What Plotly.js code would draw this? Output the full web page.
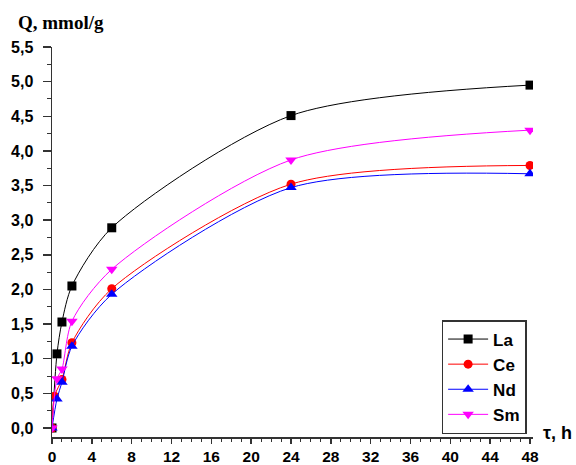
<!DOCTYPE html>
<html><head><meta charset="utf-8">
<script src="https://cdn.plot.ly/plotly-3.0.1.min.js"></script>
<style>body{margin:0;background:#fff}#c{width:576px;height:465px}</style>
</head><body><div id="c"></div>
<script>
const tLa = [0, 0.5, 1, 2, 6, 24, 48];
const qLa = [0, 1.07, 1.53, 2.05, 2.89, 4.51, 4.95];
const tCe = [0, 0.25, 1, 2, 6, 24, 48];
const qCe = [0, 0.46, 0.70, 1.23, 2.01, 3.52, 3.79];
const tNd = [0, 0.5, 1, 2, 6, 24, 48];
const qNd = [0, 0.42, 0.66, 1.18, 1.93, 3.47, 3.67];
const tSm = [0, 0.5, 1, 2, 6, 24, 48];
const qSm = [0, 0.71, 0.85, 1.54, 2.29, 3.87, 4.30];
const names = ['La', 'Ce', 'Nd', 'Sm'];
const xTicks = [0, 4, 8, 12, 16, 20, 24, 28, 32, 36, 40, 44, 48];
const yTicks = [0, 0.5, 1, 1.5, 2, 2.5, 3, 3.5, 4, 4.5, 5, 5.5];

const colors = ['#000000', '#ff0000', '#0000ff', '#ff00ff'];
const symbols = ['square', 'circle', 'triangle-up', 'triangle-down'];
const sizes = [9, 9, 10, 10];
const xs = [tLa, tCe, tNd, tSm];
const ys = [qLa, qCe, qNd, qSm];
const traces = names.map((n, i) => ({
  x: xs[i], y: ys[i], name: n, type: 'scatter', mode: 'lines+markers',
  line: {color: colors[i], width: 1, shape: 'spline', smoothing: 0.8},
  marker: {color: colors[i], symbol: symbols[i], size: sizes[i]}
}));

const bold16 = {family: 'Arial, Liberation Sans, sans-serif', size: 16, color: '#000', weight: 'bold'};
const layout = {
  width: 576, height: 465,
  margin: {l: 52, r: 43, t: 47, b: 28},
  paper_bgcolor: '#fff', plot_bgcolor: '#fff',
  separators: ', ',
  showlegend: true,
  font: {family: 'Arial, Liberation Sans, sans-serif', size: 15, color: '#000'},
  xaxis: {
    range: [0, 48.3], tickvals: xTicks, ticktext: xTicks.map(String),
    showgrid: false, zeroline: false, showline: true, linecolor: '#333', linewidth: 1.5,
    ticks: 'outside', ticklen: 5, tickwidth: 1.5, tickcolor: '#333', ticklabelstandoff: 0,
    tickfont: {family: 'Arial, Liberation Sans, sans-serif', size: 15.5, color: '#000', weight: 'bold'},
    minor: {dtick: 1, tick0: 0, ticks: 'outside', ticklen: 3, tickwidth: 1, tickcolor: '#333', showgrid: false},
    fixedrange: true
  },
  yaxis: {
    range: [-0.13, 5.5], tickvals: yTicks, tickformat: '.1f',
    showgrid: false, zeroline: false, showline: true, linecolor: '#333', linewidth: 1.5,
    ticks: 'outside', ticklen: 8, tickwidth: 1.5, tickcolor: '#333', ticklabelstandoff: 6,
    tickfont: bold16,
    minor: {dtick: 0.25, tick0: 0, ticks: 'outside', ticklen: 4, tickwidth: 1, tickcolor: '#333', showgrid: false},
    fixedrange: true
  },
  legend: {
    x: 0.81, y: 0.30, xanchor: 'left', yanchor: 'top',
    bordercolor: '#333', borderwidth: 1.5, bgcolor: '#fff',
    font: {family: 'Arial, Liberation Sans, sans-serif', size: 17, color: '#000', weight: 'bold'},
    tracegroupgap: 3, itemwidth: 40
  },
  annotations: [
    {text: 'Q, mmol/g', xref: 'paper', yref: 'paper', x: -0.075, y: 1.064, xanchor: 'left', yanchor: 'middle',
     showarrow: false, font: {family: 'Liberation Serif, Times New Roman, serif', size: 19, color: '#000', weight: 'bold'}},
    {text: 'τ, h', xref: 'paper', yref: 'paper', x: 1.016, y: 0.01, xanchor: 'left', yanchor: 'middle',
     showarrow: false, font: {family: 'Arial, Liberation Sans, sans-serif', size: 18, color: '#000', weight: 'bold'}}
  ]
};
Plotly.newPlot('c', traces, layout, {displayModeBar: false, staticPlot: true});
</script></body></html>
